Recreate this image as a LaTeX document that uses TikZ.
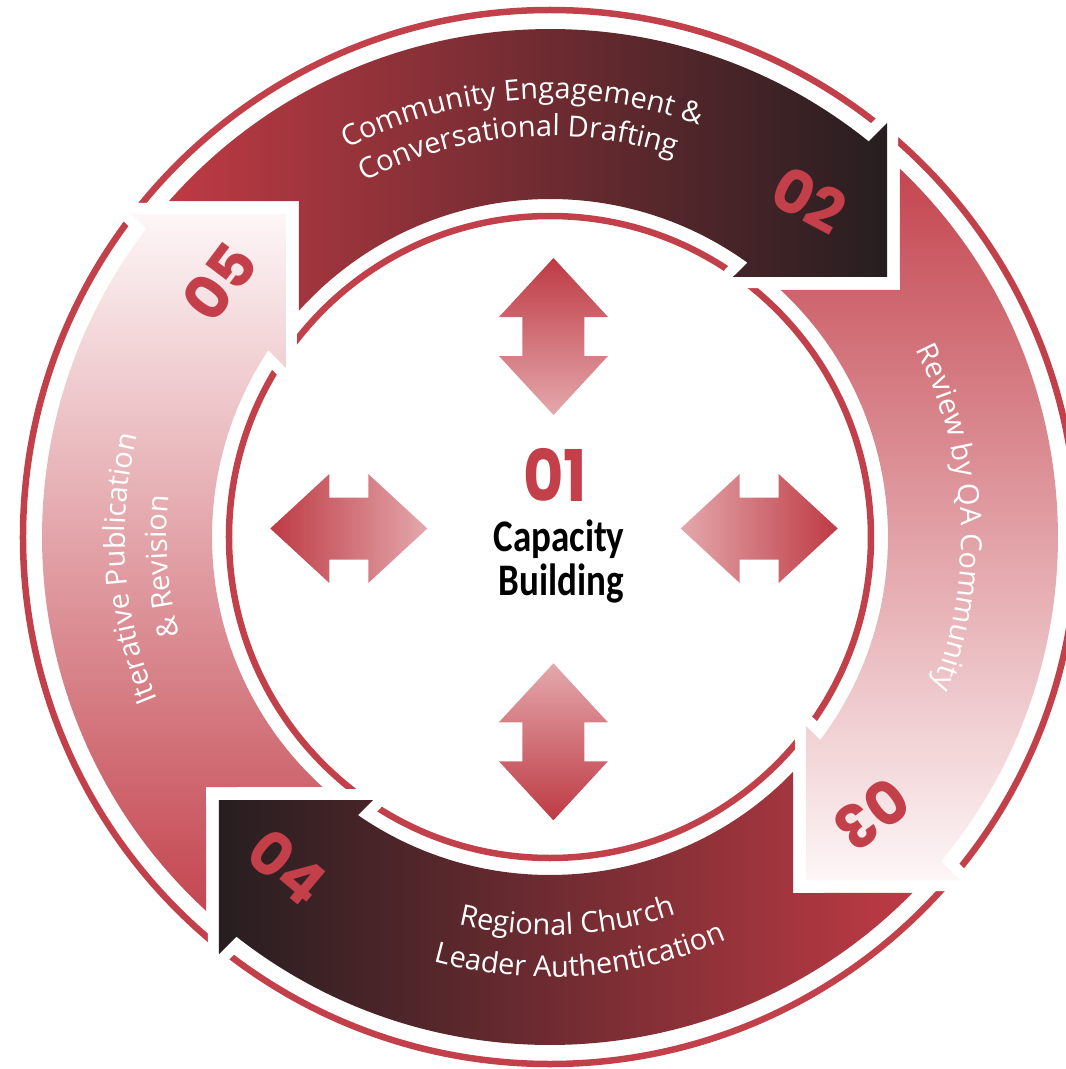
\documentclass[tikz,border=0pt]{standalone}
\usepackage{fontspec}
\setmainfont{Open Sans}
\newfontfamily\numfont{Poppins}
\newfontfamily\capfont{Carlito}
\newfontfamily\lblfont{Open Sans}
\usetikzlibrary{decorations.text}
\definecolor{ringred}{RGB}{193,64,74}
\definecolor{numred}{RGB}{195,64,74}
\definecolor{deepred}{RGB}{190,58,68}
\definecolor{darkband}{RGB}{38,30,32}
\definecolor{midred}{RGB}{196,70,80}
\definecolor{palered}{RGB}{253,246,247}
\definecolor{arrowlight}{RGB}{228,168,172}

\def\bandTwo{(138.60:508) arc[start angle=138.60, end angle=51.15, radius=508] -- (337,414) -- (337,260) -- (183,260) -- (54.27:338) arc[start angle=54.27, end angle=137.96, radius=338] -- (-251,336) -- cycle}
\def\bandThree{(46.45:508) arc[start angle=46.45, end angle=-39.65, radius=508] -- (410,-343) -- (256,-343) -- (256,-189) -- (-36.94:338) arc[start angle=-36.94, end angle=46.96, radius=338] -- (350,247) -- cycle}
\def\bandFour{(-44.49:508) arc[start angle=-44.49, end angle=-128.12, radius=508] -- (-331,-417) -- (-331,-263) -- (-177,-263) -- (-124.63:338) arc[start angle=-124.63, end angle=-44.03, radius=338] -- (243,-356) -- cycle}
\def\bandFive{(-132.62:508) arc[start angle=-132.62, end angle=-217.40, radius=508] -- (-418,323) -- (-264,323) -- (-264,169) -- (-213.54:338) arc[start angle=-213.54, end angle=-132.30, radius=338] -- (-344,-250) -- cycle}

\begin{document}
\begin{tikzpicture}[x=1pt,y=1pt,
  ringline/.style={draw=ringred, line width=6.5pt},
  halo/.style={draw=white, line width=22pt, line join=round},
  numlabel/.style={text=numred, font=\numfont\bfseries\fontsize{60}{60}\selectfont, inner sep=0pt},
  centernum/.style={text=numred, font=\numfont\bfseries\fontsize{62}{62}\selectfont, inner sep=0pt},
  captext/.style={text=black, font=\capfont\bfseries\fontsize{37}{37}\selectfont, inner sep=0pt, anchor=base},
  arctext/.style={decorate, decoration={text along path, text align=center, text color=white,
     text={|\lblfont\fontsize{29}{29}\selectfont|#1}}}
]
\useasboundingbox (-550,-532) rectangle (516,537);
\clip (-550,-532) rectangle (516,537);

% thin rings
\draw[ringline] (0,0) circle[radius=527];
\draw[ringline] (0,0) circle[radius=321];

% circular arrow bands
\draw[halo] \bandTwo;
\shade[left color=deepred, right color=darkband] \bandTwo;
\draw[halo] \bandThree;
\shade[top color=midred, bottom color=palered] \bandThree;
\draw[halo] \bandFour;
\shade[left color=darkband, right color=deepred] \bandFour;
\draw[halo] \bandFive;
\shade[bottom color=midred, top color=palered] \bandFive;

% band labels
\path[arctext={Community Engagement {\&}}] (163.8:438) arc[start angle=163.8, end angle=23.8, radius=438];
\path[arctext={Conversational Drafting}] (164.7:401) arc[start angle=164.7, end angle=24.7, radius=401];
\path[arctext={Review by QA Community}] (72.85:411) arc[start angle=72.85, end angle=-67.15, radius=411];
\path[arctext={Regional Church}] (-157.4:398) arc[start angle=-157.4, end angle=-17.4, radius=398];
\path[arctext={Leader Authentication}] (-155.85:440) arc[start angle=-155.85, end angle=-15.85, radius=440];
\path[arctext={Iterative Publication}] (254.35:425) arc[start angle=254.35, end angle=114.35, radius=425];
\path[arctext={{\&} Revision}] (254.4:383) arc[start angle=254.4, end angle=114.4, radius=383];

% step numbers
\node[numlabel, rotate=-28] (n02) at (259,337) {02};
\node[numlabel, rotate=217] (n03) at (321.7,-277.2) {03};
\node[numlabel, rotate=-40] (n04) at (-262.5,-329.7) {04};
\node[numlabel, rotate=53] (n05) at (-330.8,255.3) {05};

% inner double arrows
\shade[top color=deepred, bottom color=arrowlight]
  (3.5,279) -- (58,220) -- (34.5,220) -- (34.5,181) -- (58,181) -- (3.5,122)
  -- (-51,181) -- (-27.5,181) -- (-27.5,220) -- (-51,220) -- cycle;
\shade[top color=arrowlight, bottom color=deepred]
  (3.4,-126.3) -- (57.9,-185.3) -- (34.4,-185.3) -- (34.4,-224.3) -- (57.9,-224.3) -- (3.4,-283.3)
  -- (-51.1,-224.3) -- (-27.6,-224.3) -- (-27.6,-185.3) -- (-51.1,-185.3) -- cycle;
\shade[left color=deepred, right color=arrowlight]
  (-279.7,8.5) -- (-220.7,63) -- (-220.7,39.5) -- (-181.7,39.5) -- (-181.7,63) -- (-122.7,8.5)
  -- (-181.7,-46) -- (-181.7,-22.5) -- (-220.7,-22.5) -- (-220.7,-46) -- cycle;
\shade[left color=arrowlight, right color=deepred]
  (130.7,8.5) -- (189.7,63) -- (189.7,39.5) -- (228.7,39.5) -- (228.7,63) -- (287.7,8.5)
  -- (228.7,-46) -- (228.7,-22.5) -- (189.7,-22.5) -- (189.7,-46) -- cycle;

% centre
\node[centernum] (n01) at (5,62) {\scalebox{1}[1.15]{01}};
\node[captext] (cap1) at (9,-14.7) {\scalebox{1}[1.22]{Capacity}};
\node[captext] (cap2) at (11,-58) {\scalebox{1}[1.22]{Building}};
\end{tikzpicture}
\end{document}
